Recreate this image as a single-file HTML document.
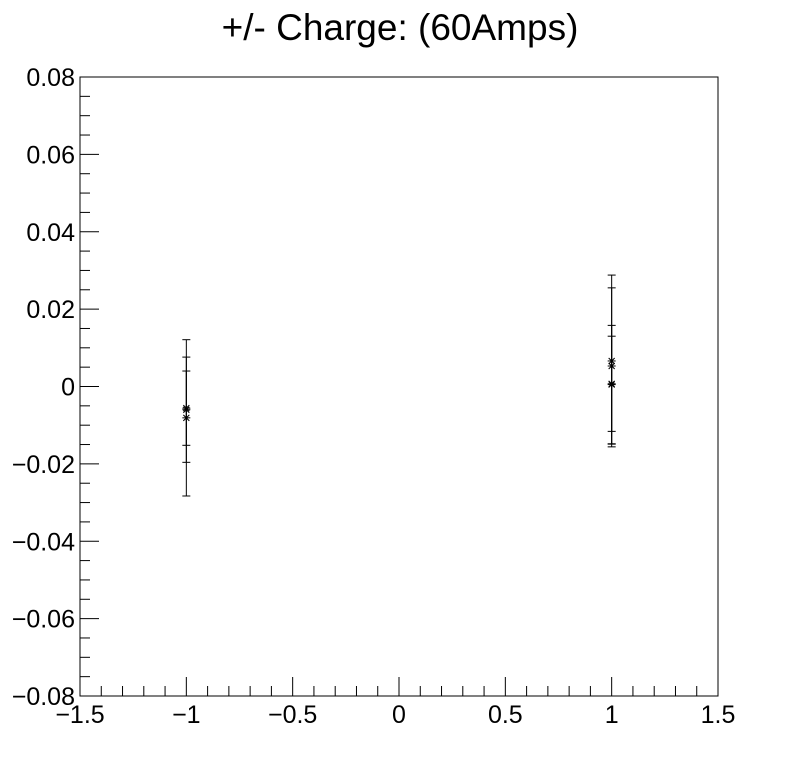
<!DOCTYPE html>
<html><head><meta charset="utf-8"><style>
html,body{margin:0;padding:0;background:#fff;width:798px;height:774px;overflow:hidden}
svg text{font-family:"Liberation Sans",sans-serif;fill:#000}
</style></head><body>
<svg id="chart" width="798" height="774">
<text x="400" y="40" font-size="37" text-anchor="middle">+/- Charge: (60Amps)</text>
<rect x="80" y="77" width="638" height="619" fill="none" stroke="#000" stroke-width="1"/>
<g id="axes"></g><g id="marks"></g>
</svg>
<script>
const xVals=[-1,-1,-1,1,1,1,1];
const yVals=[-0.0081,-0.0060,-0.0056,0.0066,0.0053,0.0005,0.0007];
const yErrs=[0.0202,0.0136,0.0096,0.0222,0.0202,0.0153,0.0123];
const xTicks=[-1.5,-1,-0.5,0,0.5,1,1.5];
const xTickLabels=["\u22121.5","\u22121","\u22120.5","0","0.5","1","1.5"];
const yTicks=[-0.08,-0.06,-0.04,-0.02,0,0.02,0.04,0.06,0.08];
const yTickLabels=["\u22120.08","\u22120.06","\u22120.04","\u22120.02","0","0.02","0.04","0.06","0.08"];
const NS="http://www.w3.org/2000/svg";
const X0=80,X1=718,Y0=696,Y1=77;
const sx=v=>X0+(v+1.5)/3*(X1-X0);
const sy=v=>Y0-(v+0.08)/0.16*(Y0-Y1);
function mk(t,a,p){const e=document.createElementNS(NS,t);for(const k in a)e.setAttribute(k,a[k]);p.appendChild(e);return e;}
const ax=document.getElementById('axes'),mg=document.getElementById('marks');
for(let i=0;i<=30;i++){const v=-1.5+i*0.1;const maj=i%5===0;const x=sx(v);
const l=mk('line',{x1:x,x2:x,y1:Y0,y2:Y0-(maj?19:10),stroke:'#000'},ax);

}
xTicks.forEach((v,i)=>{const t=mk('text',{x:sx(v),y:723,'font-size':25,'text-anchor':'middle'},ax);t.textContent=xTickLabels[i];

});
for(let i=0;i<=32;i++){const v=-0.08+i*0.005;const maj=i%4===0;const y=sy(v);
const l=mk('line',{x1:X0,x2:X0+(maj?19:10),y1:y,y2:y,stroke:'#000'},ax);

}
yTicks.forEach((v,i)=>{const t=mk('text',{x:75,y:sy(v)+9,'font-size':25,'text-anchor':'end'},ax);t.textContent=yTickLabels[i];

});
xVals.forEach((xv,i)=>{const x=sx(xv),y=sy(yVals[i]),yt=sy(yVals[i]+yErrs[i]),yb=sy(yVals[i]-yErrs[i]);
const g=mk('g',{stroke:'#000','stroke-width':1},mg);


mk('line',{x1:x,x2:x,y1:yt,y2:yb},g);
mk('line',{x1:x-4,x2:x+4,y1:yt,y2:yt},g);
mk('line',{x1:x-4,x2:x+4,y1:yb,y2:yb},g);
mk('line',{x1:x-4,x2:x+4,y1:y,y2:y},g);
mk('line',{x1:x-3,x2:x+3,y1:y-3,y2:y+3},g);
mk('line',{x1:x-3,x2:x+3,y1:y+3,y2:y-3},g);});
</script>
</body></html>
